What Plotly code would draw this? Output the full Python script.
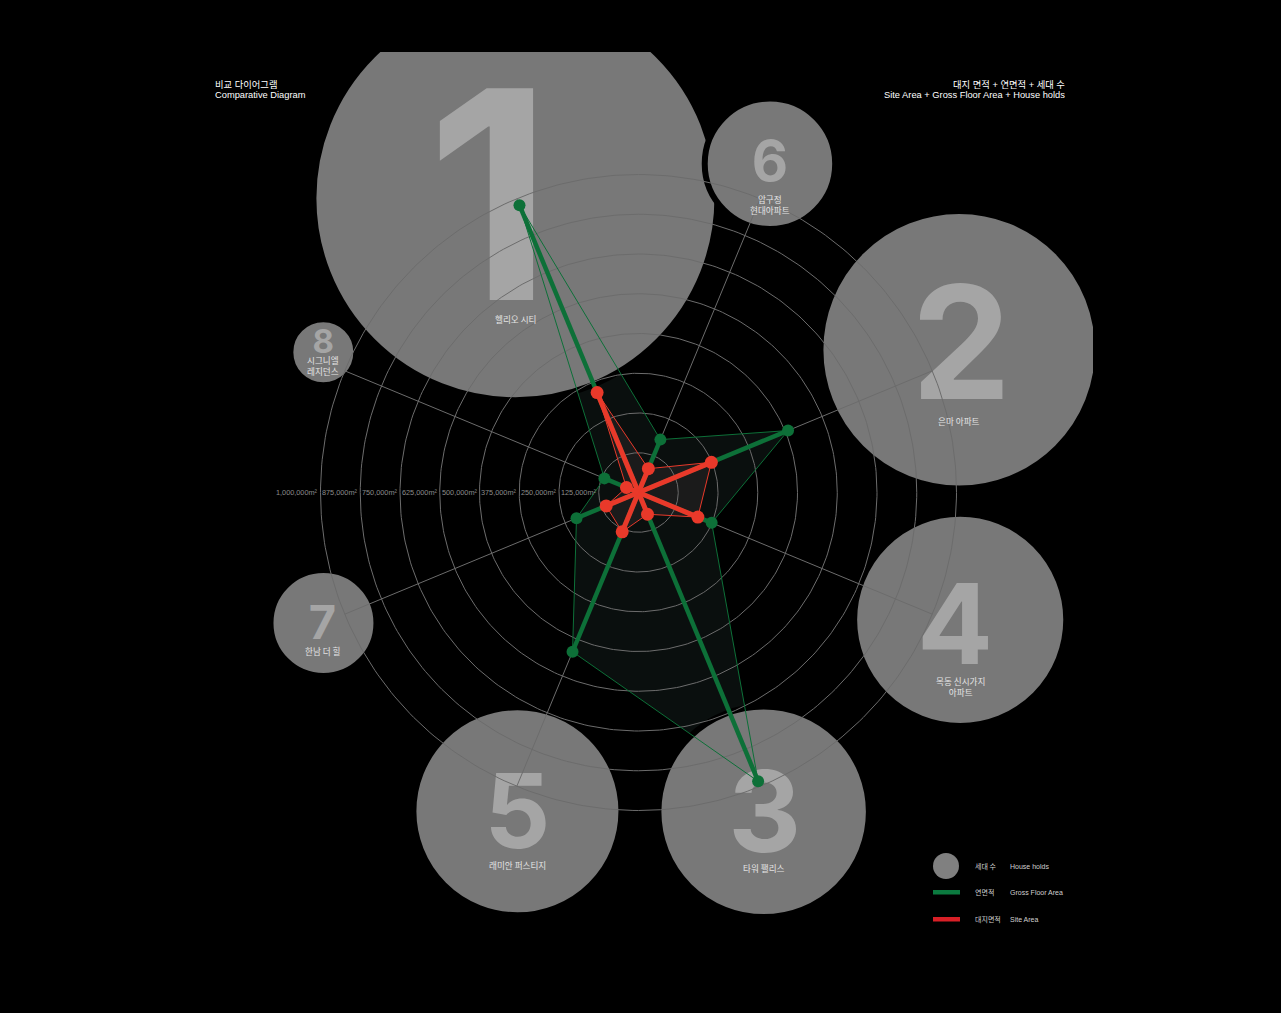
import numpy as np
import plotly.graph_objects as go

# ---- data, in spoke order (clockwise from upper left) ----------------------
RANKS = ["1", "6", "2", "4", "3", "5", "7", "8"]
NAMES = ["헬리오 시티", "압구정<br>현대아파트", "은마 아파트", "목동 신시가지<br>아파트",
         "타워 팰리스", "래미안 퍼스티지", "한남 더 힐", "시그니엘<br>레지던스"]
HOUSEHOLDS = [9510, 930, 4424, 2550, 2510, 2450, 600, 216]
GROSS_FLOOR_AREA = [978000, 180000, 509000, 249000, 983000, 542000, 211000, 116000]
SITE_AREA = [340000, 81000, 248000, 202000, 74000, 134000, 110000, 41000]
RING_VALUES = [125000, 250000, 375000, 500000, 625000, 750000, 875000, 1000000]
RING_LABELS = [f"{v:,}m²" for v in RING_VALUES]

# ---- layout ---------------------------------------------------------------
W, H = 1281, 1013
M_L, M_R, M_T, M_B = 10, 188, 52, 13
PLOT_W, PLOT_H = W - M_L - M_R, H - M_T - M_B
CX, CY = 638.5, 492.5                 # chart centre in page pixels
PX = 318 / 1_000_000                  # pixels per m²
START_DEG, STEP_DEG = 112.5, -45.0
BUBBLE_DEG = [112.7, 68.2, 24.0, -21.6, -68.6, -110.8, -157.5, 156.0]
BUBBLE_DIST_PX = [319, 354, 351, 346, 343, 341, 341, 345]
BUBBLE_R_PER_SQRT = 199 / np.sqrt(9510)
NUM_SIZE = [291, 56, 158, 112, 113, 103, 47, 33]
NUM_OFF = [(-26, -3), (0, -3), (2, -8), (-5, 4), (1, -1), (0, 0), (-1, -1), (0, -11)]
NUM_DROP = 0.11                       # em; plotly "middle" sits above ink centre
LABEL_OFF = [121, 41, 71, 67, 56, 54, 28, 13]

BG = "#000000"
BUBBLE = "#787878"
NUMERAL = "#a5a5a5"
GRID = "#6c6c6c"
GREEN = "#0d7038"
RED = "#e9392a"
FONT = "Liberation Sans, Noto Sans CJK KR, sans-serif"
KFONT = "Noto Sans CJK KR, Liberation Sans, sans-serif"


def px_x(px):
    return (px - M_L) / PLOT_W


def px_y(py):
    return (H - M_B - py) / PLOT_H


theta = np.deg2rad(START_DEG + STEP_DEG * np.arange(len(RANKS)))
cos_t, sin_t = np.cos(theta), np.sin(theta)


def closed(vals):
    v = np.asarray(vals, dtype=float)
    x = v * cos_t
    y = v * sin_t
    return np.append(x, x[0]), np.append(y, y[0])


def spokes(vals):
    xs, ys = [], []
    for v, c, s in zip(vals, cos_t, sin_t):
        xs += [0, v * c, None]
        ys += [0, v * s, None]
    return xs, ys


fig = go.Figure()

# polygon fills sit below the bubbles
gx, gy = closed(GROSS_FLOOR_AREA)
rx, ry = closed(SITE_AREA)
fig.add_trace(go.Scatter(x=gx, y=gy, mode="lines", fill="toself",
                         fillcolor="#0a0f0e", line=dict(width=0), hoverinfo="skip"))
fig.add_trace(go.Scatter(x=rx, y=ry, mode="lines", fill="toself",
                         fillcolor="#1b1b1b", line=dict(width=0), hoverinfo="skip"))

# household bubbles (area ~ households)
b_t = np.deg2rad(BUBBLE_DEG)
dist = np.array(BUBBLE_DIST_PX) / PX
bx, by = dist * np.cos(b_t), dist * np.sin(b_t)
r_px = BUBBLE_R_PER_SQRT * np.sqrt(np.array(HOUSEHOLDS, dtype=float))
LW = 6
fig.add_trace(go.Scatter(
    x=bx, y=by, mode="markers",
    marker=dict(size=2 * r_px + LW, color=BUBBLE, line=dict(color=BG, width=LW),
                opacity=1),
    hoverinfo="skip"))

# big rank numerals
nx = bx + np.array([o[0] for o in NUM_OFF]) / PX
ny = by - (np.array([o[1] for o in NUM_OFF]) + NUM_DROP * np.array(NUM_SIZE)) / PX
fig.add_trace(go.Scatter(
    x=nx, y=ny, mode="text", text=RANKS, textposition="middle center",
    textfont=dict(family="Inter", size=NUM_SIZE, color=NUMERAL, weight=700),
    hoverinfo="skip"))

# rings and spokes
t = np.linspace(0, 2 * np.pi, 361)
ring_x, ring_y = [], []
for v in RING_VALUES:
    ring_x += list(v * np.cos(t)) + [None]
    ring_y += list(v * np.sin(t)) + [None]
fig.add_trace(go.Scatter(x=ring_x, y=ring_y, mode="lines",
                         line=dict(color=GRID, width=1), hoverinfo="skip"))
sx, sy = spokes([RING_VALUES[-1]] * len(RANKS))
fig.add_trace(go.Scatter(x=sx, y=sy, mode="lines",
                         line=dict(color=GRID, width=1), hoverinfo="skip"))

# gross floor area (green) and site area (red)
fig.add_trace(go.Scatter(x=gx, y=gy, mode="lines",
                         line=dict(color=GREEN, width=1), hoverinfo="skip"))
x_, y_ = spokes(GROSS_FLOOR_AREA)
fig.add_trace(go.Scatter(x=x_, y=y_, mode="lines",
                         line=dict(color=GREEN, width=4.5), hoverinfo="skip"))
fig.add_trace(go.Scatter(x=rx, y=ry, mode="lines",
                         line=dict(color=RED, width=1), hoverinfo="skip"))
x_, y_ = spokes(SITE_AREA)
fig.add_trace(go.Scatter(x=x_, y=y_, mode="lines",
                         line=dict(color=RED, width=5), hoverinfo="skip"))
fig.add_trace(go.Scatter(x=gx[:-1], y=gy[:-1], mode="markers",
                         marker=dict(size=12, color=GREEN), hoverinfo="skip"))
fig.add_trace(go.Scatter(x=rx[:-1], y=ry[:-1], mode="markers",
                         marker=dict(size=13, color=RED), hoverinfo="skip"))

ann = []
for v, lab in zip(RING_VALUES, RING_LABELS):
    ann.append(dict(x=-v, y=0, text=lab, showarrow=False, xanchor="right",
                    yanchor="middle", xshift=-1,
                    font=dict(family=FONT, size=7.3, color="#8c8c8c")))
for x0, y0, name, off in zip(bx, by, NAMES, LABEL_OFF):
    ann.append(dict(x=x0, y=y0, text=name, showarrow=False, yshift=-off,
                    xanchor="center", yanchor="middle",
                    font=dict(family=KFONT, size=8.6, color="#e4e4e4")))

# header text, one annotation per line
for py, txt, px0, anchor in [(84, "비교 다이어그램", 213, "left"),
                             (95, "Comparative Diagram", 213, "left"),
                             (84, "대지 면적 + 연면적 + 세대 수", 1067, "right"),
                             (95, "Site Area + Gross Floor Area + House holds", 1067, "right")]:
    ann.append(dict(xref="paper", yref="paper", x=px_x(px0), y=px_y(py), text=txt,
                    showarrow=False, xanchor=anchor, yanchor="middle",
                    font=dict(family=FONT, size=9.3, color="#ffffff")))

# legend
shapes = [
    dict(type="circle", xref="paper", yref="paper",
         x0=px_x(933), x1=px_x(959), y0=px_y(879), y1=px_y(853),
         fillcolor="#808080", line=dict(width=0)),
    dict(type="rect", xref="paper", yref="paper",
         x0=px_x(933), x1=px_x(960), y0=px_y(894.5), y1=px_y(890),
         fillcolor="#0b7a3f", line=dict(width=0)),
    dict(type="rect", xref="paper", yref="paper",
         x0=px_x(933), x1=px_x(960), y0=px_y(921.5), y1=px_y(917),
         fillcolor="#d81f26", line=dict(width=0)),
]
for py, ko, en in [(866, "세대 수", "House holds"),
                   (892, "연면적", "Gross Floor Area"),
                   (919, "대지면적", "Site Area")]:
    ann.append(dict(xref="paper", yref="paper", x=px_x(973), y=px_y(py), text=ko,
                    showarrow=False, xanchor="left", yanchor="middle",
                    font=dict(family=KFONT, size=7, color="#d0d0d0")))
    ann.append(dict(xref="paper", yref="paper", x=px_x(1008), y=px_y(py), text=en,
                    showarrow=False, xanchor="left", yanchor="middle",
                    font=dict(family=FONT, size=7, color="#d0d0d0")))

fig.update_layout(
    width=W, height=H,
    margin=dict(l=M_L, r=M_R, t=M_T, b=M_B),
    paper_bgcolor=BG, plot_bgcolor=BG,
    showlegend=False,
    xaxis=dict(range=[(M_L - CX) / PX, (W - M_R - CX) / PX], visible=False,
               fixedrange=True),
    yaxis=dict(range=[(CY - (H - M_B)) / PX, (CY - M_T) / PX], visible=False,
               fixedrange=True),
    annotations=ann,
    shapes=shapes,
)

fig.write_html("out.html", config={"displayModeBar": False},
               post_script="document.body.style.margin='0';"
                           "document.body.style.overflow='hidden';")
